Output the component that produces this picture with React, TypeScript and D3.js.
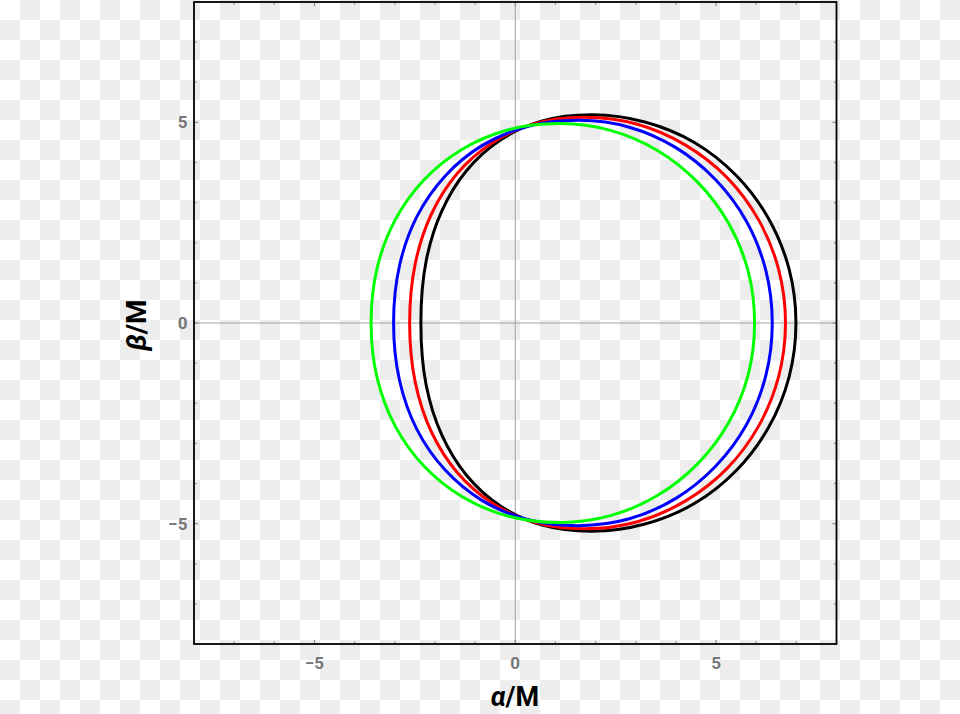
import { useEffect, useRef } from "react";
import * as d3 from "d3";

type Pt = [number, number];

// shadow outlines, [alpha, beta] (right side first, counter-clockwise)
const blackUpper: Pt[] = [
  [6.99, 0], [6.82, 1.34], [6.31, 2.6], [5.51, 3.67], [4.46, 4.5], [3.23, 5.01],
  [1.92, 5.19], [0.65, 5.03], [-0.37, 4.56], [-1.21, 3.8], [-1.83, 2.79], [-2.22, 1.54],
];
const blackLower: Pt[] = [
  [-2.35, 0], [-2.22, -1.54], [-1.83, -2.79], [-1.21, -3.8], [-0.37, -4.56], [0.65, -5.03],
  [1.92, -5.19], [3.23, -5.01], [4.46, -4.5], [5.51, -3.67], [6.31, -2.6], [6.82, -1.34],
];

const redUpper: Pt[] = [
  [6.73, 0], [6.56, 1.33], [6.06, 2.57], [5.27, 3.63], [4.23, 4.44], [3.02, 4.96],
  [1.73, 5.13], [0.48, 4.97], [-0.57, 4.49], [-1.44, 3.73], [-2.09, 2.71], [-2.49, 1.48],
];
const redLower: Pt[] = [
  [-2.63, 0], [-2.49, -1.48], [-2.09, -2.71], [-1.44, -3.73], [-0.57, -4.49], [0.48, -4.97],
  [1.73, -5.13], [3.02, -4.96], [4.23, -4.44], [5.27, -3.63], [6.06, -2.57], [6.56, -1.33],
];

const blueUpper: Pt[] = [
  [6.4, 0], [6.24, 1.31], [5.76, 2.53], [4.99, 3.57], [4.0, 4.37], [2.84, 4.88],
  [1.6, 5.05], [0.28, 4.89], [-0.83, 4.42], [-1.75, 3.66], [-2.45, 2.65], [-2.88, 1.44],
];
const blueLower: Pt[] = [
  [-3.03, 0], [-2.88, -1.44], [-2.45, -2.65], [-1.75, -3.66], [-0.83, -4.42], [0.28, -4.89],
  [1.6, -5.05], [2.84, -4.88], [4.0, -4.37], [4.99, -3.57], [5.76, -2.53], [6.24, -1.31],
];

const greenUpper: Pt[] = [
  [5.96, 0], [5.8, 1.29], [5.31, 2.49], [4.54, 3.51], [3.54, 4.3], [2.37, 4.8],
  [1.11, 4.97], [-0.19, 4.81], [-1.32, 4.33], [-2.27, 3.57], [-2.99, 2.57], [-3.44, 1.37],
];
const greenLower: Pt[] = [
  [-3.59, 0], [-3.44, -1.37], [-2.99, -2.57], [-2.27, -3.57], [-1.32, -4.33], [-0.19, -4.81],
  [1.11, -4.97], [2.37, -4.8], [3.54, -4.3], [4.54, -3.51], [5.31, -2.49], [5.8, -1.29],
];

const curves = [
  { name: "black", color: "#000000", pts: [...blackUpper, ...blackLower] },
  { name: "red", color: "#ff0000", pts: [...redUpper, ...redLower] },
  { name: "blue", color: "#0000ff", pts: [...blueUpper, ...blueLower] },
  { name: "green", color: "#00ff00", pts: [...greenUpper, ...greenLower] },
];

const labelTicks = [-5, 0, 5];

const W = 960;
const H = 714;
const CELL = 20;

const App = () => {
  const ref = useRef<SVGSVGElement | null>(null);

  useEffect(() => {
    if (!ref.current) return;
    const svg = d3.select(ref.current).html("");

    // checkerboard backdrop (transparent-png look)
    svg.append("rect").attr("width", W).attr("height", H).attr("fill", "#ffffff");
    const cells: { i: number; j: number }[] = [];
    for (let i = 0; i < Math.ceil(W / CELL); i++)
      for (let j = 0; j < Math.ceil(H / CELL); j++)
        if ((i + j) % 2 === 1) cells.push({ i, j });
    svg.append("g").selectAll("rect").data(cells).join("rect")
      .attr("x", (d) => d.i * CELL)
      .attr("y", (d) => d.j * CELL)
      .attr("width", CELL)
      .attr("height", CELL)
      .attr("fill", "#ededed");

    const x = d3.scaleLinear().domain([-8, 8]).range([194, 836.5]);
    const y = d3.scaleLinear().domain([-8, 8]).range([644, 2]);

    // axes through origin
    svg.append("line")
      .attr("x1", x(0)).attr("x2", x(0)).attr("y1", y(8)).attr("y2", y(-8))
      .attr("stroke", "#a0a0a0").attr("stroke-width", 1);
    svg.append("line")
      .attr("x1", x(-8)).attr("x2", x(8)).attr("y1", y(0)).attr("y2", y(0))
      .attr("stroke", "#a0a0a0").attr("stroke-width", 1);

    const line = d3
      .line<Pt>()
      .x((d) => x(d[0]))
      .y((d) => y(d[1]))
      .curve(d3.curveCatmullRomClosed.alpha(0.5));

    curves.forEach((c) => {
      svg.append("path")
        .datum(c.pts)
        .attr("fill", "none")
        .attr("stroke", c.color)
        .attr("stroke-width", 3)
        .attr("d", line as any);
    });

    // small inward ticks on all four sides
    const minor = x.ticks(16);
    const tickG = svg.append("g").attr("stroke", "#8a8a8a").attr("stroke-width", 1.2);
    minor.forEach((v) => {
      const len = v % 5 === 0 ? 4 : 2.5;
      tickG.append("line").attr("x1", x(v)).attr("x2", x(v)).attr("y1", y(-8)).attr("y2", y(-8) - len);
      tickG.append("line").attr("x1", x(v)).attr("x2", x(v)).attr("y1", y(8)).attr("y2", y(8) + len);
      tickG.append("line").attr("y1", y(v)).attr("y2", y(v)).attr("x1", x(-8)).attr("x2", x(-8) + len);
      tickG.append("line").attr("y1", y(v)).attr("y2", y(v)).attr("x1", x(8)).attr("x2", x(8) - len);
    });

    // frame
    svg.append("rect")
      .attr("x", x(-8)).attr("y", y(8))
      .attr("width", x(8) - x(-8)).attr("height", y(-8) - y(8))
      .attr("fill", "none").attr("stroke", "#000").attr("stroke-width", 1.8);

    const fmt = d3.format("d");
    const font = "Roboto, 'Noto Sans', sans-serif";

    svg.append("g").selectAll("text").data(labelTicks).join("text")
      .attr("x", (d) => x(d))
      .attr("y", 669)
      .attr("text-anchor", "middle")
      .attr("fill", "#777")
      .style("font-family", font)
      .style("font-weight", "bold")
      .style("font-size", "17px")
      .text((d) => fmt(d));

    svg.append("g").selectAll("text").data(labelTicks).join("text")
      .attr("x", 187.5)
      .attr("y", (d) => y(d) + 6)
      .attr("text-anchor", "end")
      .attr("fill", "#777")
      .style("font-family", font)
      .style("font-weight", "bold")
      .style("font-size", "17px")
      .text((d) => fmt(d));

    // axis titles
    const xt = svg.append("text")
      .attr("x", 515)
      .attr("y", 706)
      .attr("text-anchor", "middle")
      .style("font-family", font)
      .style("font-weight", "bold")
      .style("font-size", "27px");
    xt.append("tspan").style("font-style", "italic").text("α");
    xt.append("tspan").text("/M");

    const yt = svg.append("text")
      .attr("transform", "translate(146,325) rotate(-90)")
      .attr("text-anchor", "middle")
      .style("font-family", font)
      .style("font-weight", "bold")
      .style("font-size", "28px");
    yt.append("tspan").style("font-style", "italic").text("β");
    yt.append("tspan").text("/M");
  }, []);

  return (
    <svg
      ref={ref}
      width={W}
      height={H}
      style={{ position: "absolute", left: 0, top: 0, display: "block" }}
    />
  );
};

export default App;
